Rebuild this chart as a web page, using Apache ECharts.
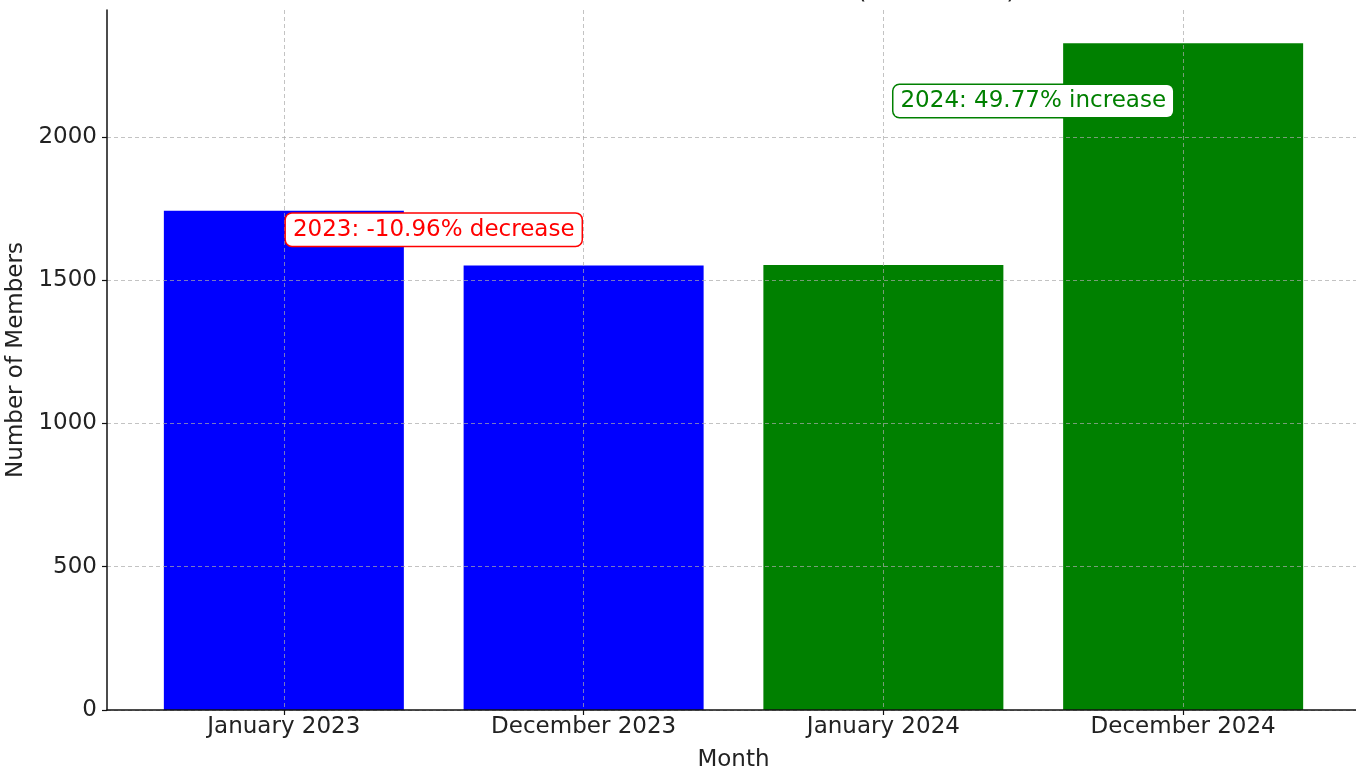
<!DOCTYPE html>
<html>
<head>
<meta charset="utf-8">
<script src="https://cdn.jsdelivr.net/npm/echarts@6/dist/echarts.min.js"></script>
<style>
  html, body { margin: 0; padding: 0; background: #fff; }
  #chart { width: 1356px; height: 767px; }
</style>
</head>
<body>
<div id="chart"></div>
<script>
// Member counts at the start and end of each year
const months = ['January 2023', 'December 2023', 'January 2024', 'December 2024'];
const members = [1742, 1551, 1553, 2326];
const barColors = ['#0000ff', '#0000ff', '#008000', '#008000'];
const yTicks = [0, 500, 1000, 1500, 2000];

// Year-over-year change notes
const noteTexts = ['2023: -10.96% decrease', '2024: 49.77% increase'];
const noteX = [0.5, 2.5];
const noteY = [1676, 2125];
const noteColors = ['#ff0000', '#008000'];

const FONT = 'DejaVu Sans';
const xTicks = months.map((_, i) => i);
const yMax = Math.max(...members) * 1.05;
const gridLine = { show: true, lineStyle: { color: 'rgba(170,170,170,0.7)', type: [4, 3], width: 1 } };

const chart = echarts.init(document.getElementById('chart'), null, { renderer: 'canvas' });

chart.setOption({
  animation: false,
  backgroundColor: '#ffffff',
  textStyle: { fontFamily: FONT },
  graphic: [{
    type: 'text',
    x: 722,
    y: 4,
    style: {
      text: 'Member Numbers Over Two Years (2023–2024)',
      font: '25px "DejaVu Sans"',
      fill: '#222',
      textAlign: 'center',
      textVerticalAlign: 'bottom'
    }
  }],
  grid: { left: 107, right: -4, top: 10, bottom: 57, outerBoundsMode: 'none' },
  xAxis: {
    type: 'value',
    min: -0.59,
    max: 3.59,
    z: 3,
    name: 'Month',
    nameLocation: 'middle',
    nameGap: 39,
    nameTextStyle: { fontFamily: FONT, fontSize: 23, color: '#222' },
    axisLine: { show: true, onZero: false, lineStyle: { color: '#111', width: 1.5 } },
    axisTick: { show: true, customValues: xTicks, length: 5, lineStyle: { color: '#111', width: 1.2 } },
    axisLabel: {
      customValues: xTicks,
      formatter: v => months[Math.round(v)],
      fontFamily: FONT, fontSize: 23, color: '#222', margin: 6
    },
    splitLine: gridLine
  },
  yAxis: {
    type: 'value',
    min: 0,
    max: yMax,
    z: 3,
    name: 'Number of Members',
    nameLocation: 'middle',
    nameGap: 74,
    nameTextStyle: { fontFamily: FONT, fontSize: 23, color: '#222' },
    axisLine: { show: true, onZero: false, lineStyle: { color: '#111', width: 1.5 } },
    axisTick: { show: true, customValues: yTicks, length: 5, lineStyle: { color: '#111', width: 1.2 } },
    axisLabel: {
      customValues: yTicks,
      formatter: v => String(v),
      fontFamily: FONT, fontSize: 23, color: '#222', margin: 10
    },
    splitLine: gridLine
  },
  series: [
    {
      type: 'bar',
      z: 1,
      barWidth: 240,
      data: members.map((v, i) => ({ value: [i, v], itemStyle: { color: barColors[i] } }))
    },
    {
      type: 'scatter',
      z: 10,
      symbolSize: 0,
      silent: true,
      itemStyle: { opacity: 1 },
      data: noteTexts.map((t, i) => ({
        value: [noteX[i], noteY[i]],
        label: {
          show: true,
          position: 'inside',
          formatter: t,
          opacity: 1,
          fontFamily: FONT,
          fontSize: 23,
          color: noteColors[i],
          backgroundColor: '#ffffff',
          borderColor: noteColors[i],
          borderWidth: 1.5,
          borderRadius: 6,
          padding: [5, 7, 4, 7]
        }
      }))
    }
  ]
});
</script>
</body>
</html>
